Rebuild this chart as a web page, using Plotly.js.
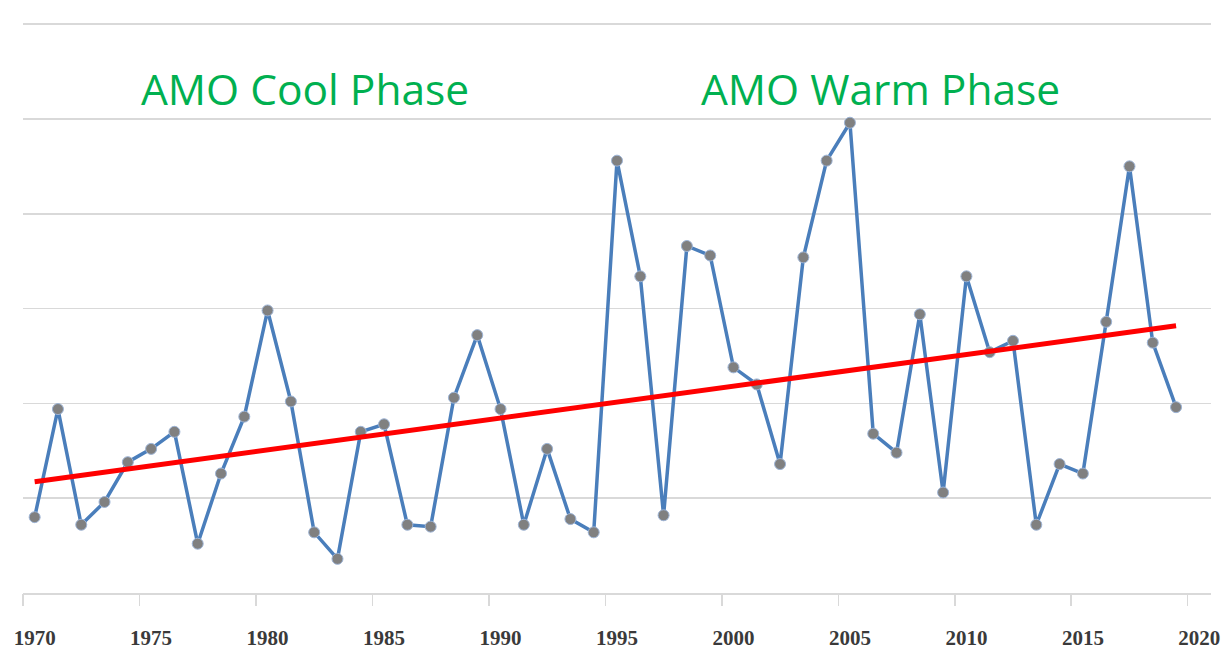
<!DOCTYPE html>
<html>
<head>
<meta charset="utf-8">
<script src="https://cdn.plot.ly/plotly-3.0.1.min.js"></script>
<style>html,body{margin:0;padding:0;background:#fff;}#chart{width:1225px;height:652px;}</style>
</head>
<body>
<div id="chart"></div>
<script>
// Data
var years = [1970,1971,1972,1973,1974,1975,1976,1977,1978,1979,
             1980,1981,1982,1983,1984,1985,1986,1987,1988,1989,
             1990,1991,1992,1993,1994,1995,1996,1997,1998,1999,
             2000,2001,2002,2003,2004,2005,2006,2007,2008,2009,
             2010,2011,2012,2013,2014,2015,2016,2017,2018,2019];
var values = [40,97,36,48,69,76,85,26,63,93,
              149,101,32,18,85,89,36,35,103,136,
              97,36,76,39,32,228,167,41,183,178,
              119,110,68,177,228,248,84,74,147,53,
              167,127,133,36,68,63,143,225,132,98];
var trendYears = [1970, 2019];
var trendValues = [58.7, 140.9];
var labelYears = [1970,1975,1980,1985,1990,1995,2000,2005,2010,2015,2020];
var tickLabels = ['1970','1975','1980','1985','1990','1995','2000','2005','2010','2015','2020'];
var boundaryTicks = [1969.5,1974.5,1979.5,1984.5,1989.5,1994.5,1999.5,2004.5,2009.5,2014.5,2019.5];
var phaseLabels = ['AMO Cool Phase', 'AMO Warm Phase'];

var xr = [1969.5, 2020.5];
var traces = [
  {
    x: years, y: values, type: 'scatter', mode: 'lines+markers',
    line: {color: '#4a7ebb', width: 3.5},
    marker: {color: '#808080', size: 11, line: {color: '#9db4d6', width: 1}},
    hoverinfo: 'x+y', showlegend: false
  },
  {
    x: trendYears, y: trendValues, type: 'scatter', mode: 'lines',
    line: {color: '#ff0000', width: 5},
    hoverinfo: 'skip', showlegend: false
  },
  {
    // invisible helper so the boundary-tick axis is drawn
    x: [xr[0]], y: [0], xaxis: 'x2', yaxis: 'y', type: 'scatter', mode: 'markers',
    marker: {opacity: 0, size: 1}, hoverinfo: 'skip', showlegend: false
  }
];

var layout = {
  width: 1225, height: 652,
  margin: {l: 22.5, r: 14, t: 23, b: 58.5, pad: 0},
  paper_bgcolor: '#ffffff', plot_bgcolor: '#ffffff',
  showlegend: false,
  xaxis: {
    range: xr, tickvals: labelYears, ticktext: tickLabels,
    ticks: 'outside', ticklen: 25, tickcolor: 'rgba(0,0,0,0)',
    tickfont: {family: 'Liberation Serif', size: 21, color: '#3a3a3a', weight: 'bold'},
    showgrid: false, zeroline: false, showline: true, linecolor: '#d9d9d9', linewidth: 1.5,
    fixedrange: true
  },
  xaxis2: {
    overlaying: 'x', anchor: 'y', side: 'bottom', range: xr,
    tickvals: boundaryTicks, ticks: 'outside', ticklen: 12, tickcolor: '#d9d9d9', tickwidth: 1.5,
    showticklabels: false, showgrid: false, zeroline: false, showline: false
  },
  yaxis: {
    range: [0, 300.6], tickvals: [0, 50, 100, 150, 200, 250, 300], showticklabels: false, ticks: '',
    showgrid: true, gridcolor: '#d9d9d9', gridwidth: 1.5, zeroline: false, showline: false,
    fixedrange: true
  },
  annotations: [
    {text: phaseLabels[0], x: 0.2377, y: 0.885, xref: 'paper', yref: 'paper', showarrow: false,
     xanchor: 'center', yanchor: 'middle', font: {family: 'Open Sans', size: 42.5, color: '#00b050'}},
    {text: phaseLabels[1], x: 0.7215, y: 0.885, xref: 'paper', yref: 'paper', showarrow: false,
     xanchor: 'center', yanchor: 'middle', font: {family: 'Open Sans', size: 42.5, color: '#00b050'}}
  ]
};

Plotly.newPlot('chart', traces, layout, {displayModeBar: false, staticPlot: true});
</script>
</body>
</html>
